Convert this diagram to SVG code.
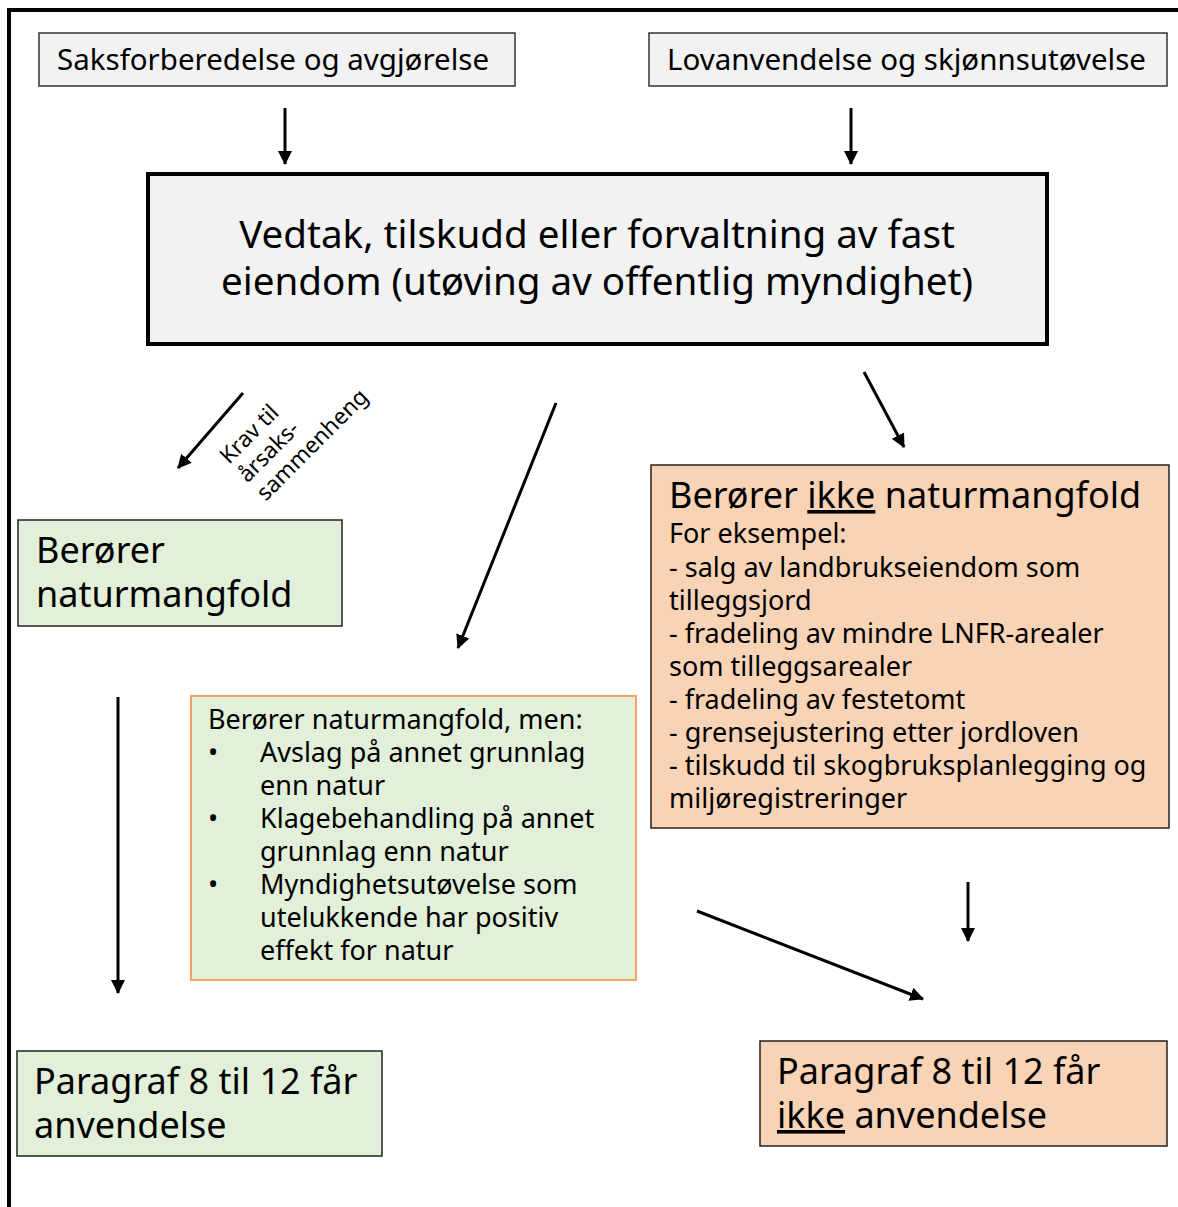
<svg xmlns="http://www.w3.org/2000/svg" width="1178" height="1207" viewBox="0 0 1178 1207">
<style>
text{font-family:"Noto Sans","Open Sans","DejaVu Sans",sans-serif;fill:#000}
.grey{fill:#f2f2f2;stroke:#333;stroke-width:1.5}
.green{fill:#e2efd9;stroke:#222;stroke-width:1.5}
.orange{fill:#f8d3b5;stroke:#222;stroke-width:1.5}
.conn{stroke:#000;stroke-width:3;fill:none;marker-end:url(#ah)}
.t28{font-size:29.5px}
.t36{font-size:36px}
.t26{font-size:27px}
</style>
<defs>
<marker id="ah" markerUnits="userSpaceOnUse" markerWidth="14" markerHeight="14" refX="13" refY="7" orient="auto">
<path d="M0,0 L14,7 L0,14 z" fill="#000"/>
</marker>
</defs>
<rect width="1178" height="1207" fill="#fff"/>
<g id="frame">
<path d="M9,1207 V10 H1178" fill="none" stroke="#000" stroke-width="4"/>
</g>
<g id="n-saks">
<rect class="grey" x="39" y="33" width="476" height="53"/>
<text class="t28" x="57" y="70">Saksforberedelse og avgjørelse</text>
</g>
<g id="n-lov">
<rect class="grey" x="649" y="33" width="518" height="53"/>
<text class="t28" x="667" y="70">Lovanvendelse og skjønnsutøvelse</text>
</g>
<g id="n-vedtak">
<rect x="148" y="174" width="899" height="170" fill="#f2f2f2" stroke="#000" stroke-width="4"/>
<text x="597" y="248" font-size="38.6" text-anchor="middle">Vedtak, tilskudd eller forvaltning av fast</text>
<text x="597" y="295" font-size="38.6" text-anchor="middle">eiendom (utøving av offentlig myndighet)</text>
</g>
<g id="n-berorer">
<rect class="green" x="18" y="520" width="324" height="106"/>
<text class="t36" x="36" y="563">Berører</text>
<text class="t36" x="36" y="607">naturmangfold</text>
</g>
<g id="n-ikke">
<rect class="orange" x="651" y="465" width="518" height="363"/>
<text class="t36" x="669" y="508">Berører <tspan text-decoration="underline">ikke</tspan> naturmangfold</text>
<text class="t26" x="669" y="543">For eksempel:</text>
<text class="t26" x="669" y="577">- salg av landbrukseiendom som</text>
<text class="t26" x="669" y="610">tilleggsjord</text>
<text class="t26" x="669" y="643">- fradeling av mindre LNFR-arealer</text>
<text class="t26" x="669" y="676">som tilleggsarealer</text>
<text class="t26" x="669" y="709">- fradeling av festetomt</text>
<text class="t26" x="669" y="742">- grensejustering etter jordloven</text>
<text class="t26" x="669" y="775">- tilskudd til skogbruksplanlegging og</text>
<text class="t26" x="669" y="808">miljøregistreringer</text>
</g>
<g id="n-men">
<rect x="191" y="696" width="445" height="284" fill="#e2efd9" stroke="#f4a460" stroke-width="2"/>
<text class="t26" x="208" y="729">Berører naturmangfold, men:</text>
<text class="t26" x="208" y="762">•</text>
<text class="t26" x="260" y="762">Avslag på annet grunnlag</text>
<text class="t26" x="260" y="795">enn natur</text>
<text class="t26" x="208" y="828">•</text>
<text class="t26" x="260" y="828">Klagebehandling på annet</text>
<text class="t26" x="260" y="861">grunnlag enn natur</text>
<text class="t26" x="208" y="894">•</text>
<text class="t26" x="260" y="894">Myndighetsutøvelse som</text>
<text class="t26" x="260" y="927">utelukkende har positiv</text>
<text class="t26" x="260" y="960">effekt for natur</text>
</g>
<g id="n-anv">
<rect class="green" x="17" y="1051" width="365" height="105"/>
<text class="t36" x="34" y="1094">Paragraf 8 til 12 får</text>
<text class="t36" x="34" y="1138">anvendelse</text>
</g>
<g id="n-ikke-anv">
<rect class="orange" x="760" y="1041" width="407" height="105"/>
<text class="t36" x="777" y="1084">Paragraf 8 til 12 får</text>
<text class="t36" x="777" y="1128"><tspan text-decoration="underline">ikke</tspan> anvendelse</text>
</g>
<g id="connectors">
<line class="conn" x1="285" y1="108" x2="285" y2="164"/>
<line class="conn" x1="851" y1="108" x2="851" y2="164"/>
<line class="conn" x1="243" y1="393" x2="178" y2="468"/>
<line class="conn" x1="556" y1="403" x2="458" y2="648"/>
<line class="conn" x1="864" y1="372" x2="904" y2="447"/>
<line class="conn" x1="118" y1="697" x2="118" y2="993"/>
<line class="conn" x1="968" y1="882" x2="968" y2="941"/>
<line class="conn" x1="697" y1="911" x2="923" y2="999"/>
<g transform="translate(229,465) rotate(-45)">
<text font-size="22.5" x="0" y="0">Krav til</text>
<text font-size="22.5" x="0" y="26">årsaks-</text>
<text font-size="22.5" x="0" y="52">sammenheng</text>
</g>
</g>
</svg>
